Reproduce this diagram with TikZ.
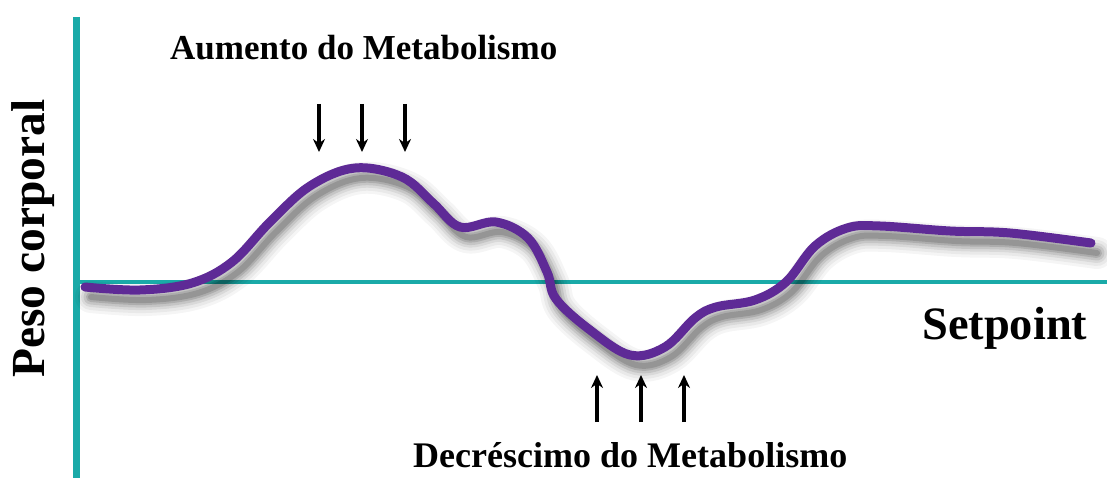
\documentclass[tikz,border=0pt]{standalone}
\usepackage{fontspec}
\setmainfont{Liberation Serif}
\usetikzlibrary{arrows.meta}
\definecolor{axisteal}{RGB}{26,170,168}
\definecolor{curvepurple}{RGB}{94,42,150}
\tikzset{
  axisline/.style={draw=axisteal},
  curveline/.style={draw=curvepurple, line width=9pt, line cap=round, line join=round},
  shadowline/.style={draw=black, line cap=round, line join=round},
  metarrow/.style={draw=black, line width=3.4pt, -{Stealth[length=13pt,width=12pt]}},
  lbl/.style={inner sep=0pt, font=\bfseries}
}
\newcommand{\curvepts}{(85,287) (140,290) (192,283) (232,262) (270,222) (310,186) (355,168) (402,177) (433,203) (460,227) (496,222) (528,238) (547,272) (556,299) (590,330) (630,355) (665,347) (695,318) (716,307) (755,300) (786,282) (815,246) (847,228) (880,226) (950,231) (1010,233) (1091,243)}
\begin{document}
\begin{tikzpicture}[x=1pt,y=-1pt]
\useasboundingbox (0,0) rectangle (1107,478);
% axes
\coordinate (vtop) at (76,17);
\coordinate (vbot) at (76,478);
\coordinate (hleft) at (76,282);
\coordinate (hright) at (1107,282);
\draw[axisline, line width=7pt] (vtop) -- (vbot);
\draw[axisline, line width=4pt] (hleft) -- (hright);
% shadow
\begin{scope}[shift={(6,10)}]
\foreach \w/\o in {32/0.04,26/0.05,20/0.07,15/0.09,10/0.12,6/0.14}{
  \draw[shadowline, line width=\w pt, opacity=\o] plot[smooth, tension=0.6] coordinates {\curvepts};
}
\end{scope}
% curve
\draw[curveline] plot[smooth, tension=0.6] coordinates {\curvepts};
% arrows
\foreach \i/\x in {1/319,2/362,3/405}{
  \coordinate (d\i s) at (\x,104);
  \coordinate (d\i e) at (\x,152);
  \draw[metarrow] (d\i s) -- (d\i e);
}
\foreach \i/\x in {1/597,2/641,3/684}{
  \coordinate (u\i s) at (\x,422);
  \coordinate (u\i e) at (\x,375);
  \draw[metarrow] (u\i s) -- (u\i e);
}
% labels
\node[lbl, anchor=base west] (aum) at (170,60) {\resizebox{387pt}{!}{Aumento do Metabolismo}};
\node[lbl, anchor=base west] (dec) at (413,467) {\resizebox{434pt}{!}{Decréscimo do Metabolismo}};
\node[lbl, anchor=base west] (set) at (922,339) {\resizebox{165pt}{!}{Setpoint}};
\node[lbl, anchor=base west, rotate=90] (peso) at (44,378) {\resizebox{278pt}{!}{Peso corporal}};
\end{tikzpicture}
\end{document}
